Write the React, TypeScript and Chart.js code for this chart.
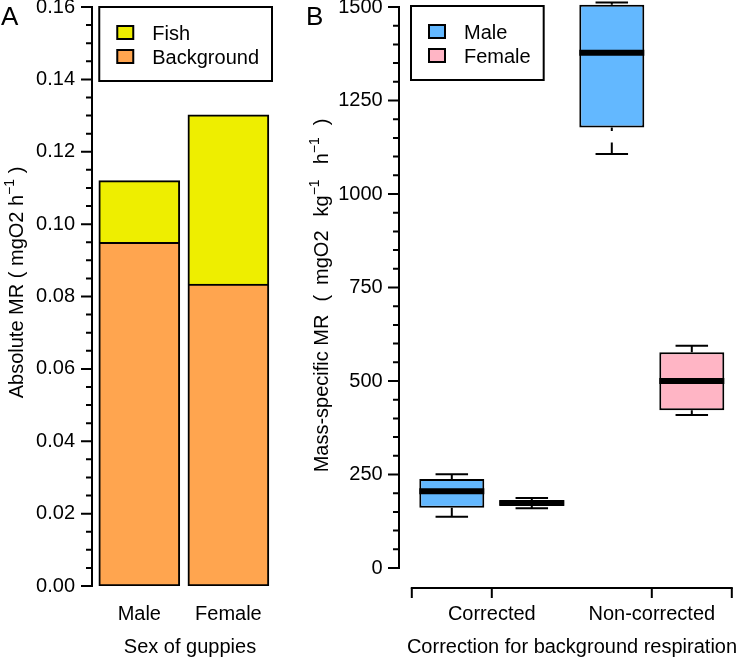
import { useEffect, useRef } from 'react';
import { Chart, registerables } from 'chart.js';

Chart.register(...registerables);

// ---------- Panel A data ----------
const sexCategories = ['Male', 'Female'];
const backgroundMR = [0.095, 0.0834];
const fishMR = [0.017, 0.0468];
const yTicksA = [0, 0.02, 0.04, 0.06, 0.08, 0.1, 0.12, 0.14, 0.16];

// ---------- Panel B data ----------
const correctionGroups = ['Corrected', 'Non-corrected'];
const maleMin = [137, 1107];
const maleQ1 = [161, 1178];
const maleMedian = [205, 1378];
const maleQ3 = [238, 1506];
const maleMax = [251, 1512];
const femaleMin = [160, 409];
const femaleQ1 = [167, 422];
const femaleMedian = [174, 500];
const femaleQ3 = [181, 577];
const femaleMax = [187, 594];
const yTicksB = [0, 250, 500, 750, 1000, 1250, 1500];
const xAxisTicksB = [0.5, 1, 2, 2.5];

const FONT = "'Liberation Sans', Arial, Helvetica, sans-serif";
const FS = 20;
const COLORS = {
  fish: '#EEEE00',
  background: '#FFA54F',
  male: '#63B8FF',
  female: '#FFB5C5',
};

type Part = { text?: string; sup?: boolean; gap?: number };

function drawText(ctx: CanvasRenderingContext2D, parts: Part[], x: number, y: number, rotate: boolean, size = FS, supSize = 14, raise = 9) {
  ctx.save();
  ctx.fillStyle = '#000';
  ctx.textBaseline = 'alphabetic';
  ctx.textAlign = 'left';
  let total = 0;
  const widths = parts.map((p) => {
    if (p.gap !== undefined) {
      total += p.gap;
      return p.gap;
    }
    ctx.font = `${p.sup ? supSize : size}px ${FONT}`;
    const w = ctx.measureText(p.text || '').width;
    total += w;
    return w;
  });
  ctx.translate(x, y);
  if (rotate) ctx.rotate(-Math.PI / 2);
  let cx = -total / 2;
  parts.forEach((p, i) => {
    if (p.text) {
      ctx.font = `${p.sup ? supSize : size}px ${FONT}`;
      ctx.fillText(p.text, cx, p.sup ? -raise : 0);
    }
    cx += widths[i];
  });
  ctx.restore();
}

function minorValues(majors: number[], parts: number) {
  const out: number[] = [];
  for (let i = 0; i < majors.length - 1; i++) {
    const a = majors[i];
    const b = majors[i + 1];
    for (let k = 1; k < parts; k++) out.push(a + ((b - a) * k) / parts);
  }
  return out;
}

function drawYAxis(chart: any, majors: number[], minorParts: number) {
  const ctx: CanvasRenderingContext2D = chart.ctx;
  const y = chart.scales.y;
  const x0 = chart.chartArea.left;
  ctx.save();
  ctx.strokeStyle = '#000';
  ctx.lineWidth = 2;
  ctx.lineCap = 'square';
  ctx.beginPath();
  ctx.moveTo(x0, y.getPixelForValue(majors[0]));
  ctx.lineTo(x0, y.getPixelForValue(majors[majors.length - 1]));
  ctx.stroke();
  ctx.lineCap = 'butt';
  ctx.beginPath();
  majors.forEach((v) => {
    const p = y.getPixelForValue(v);
    ctx.moveTo(x0, p);
    ctx.lineTo(x0 - 11, p);
  });
  minorValues(majors, minorParts).forEach((v) => {
    const p = y.getPixelForValue(v);
    ctx.moveTo(x0, p);
    ctx.lineTo(x0 - 6, p);
  });
  ctx.stroke();
  ctx.restore();
}

function drawLegend(ctx: CanvasRenderingContext2D, items: { label: string; color: string }[], anchorX: number, top: number, alignRight: boolean) {
  ctx.save();
  ctx.font = `${FS}px ${FONT}`;
  const textW = Math.max(...items.map((it) => ctx.measureText(it.label).width));
  const width = 53 + textW + 13;
  const height = 74;
  const left = alignRight ? anchorX - width : anchorX;
  ctx.lineWidth = 2;
  ctx.strokeStyle = '#000';
  ctx.fillStyle = '#fff';
  ctx.fillRect(left, top, width, height);
  ctx.strokeRect(left, top, width, height);
  items.forEach((it, k) => {
    const sy = top + 19 + k * 24;
    ctx.fillStyle = it.color;
    ctx.fillRect(left + 18, sy, 16, 13);
    ctx.lineWidth = 2;
    ctx.strokeRect(left + 18, sy, 16, 13);
    ctx.fillStyle = '#000';
    ctx.textBaseline = 'alphabetic';
    ctx.textAlign = 'left';
    ctx.fillText(it.label, left + 53, sy + 13.5);
  });
  ctx.restore();
}

const zeroPad = (s: any) => {
  s.paddingLeft = 0;
  s.paddingRight = 0;
  s.paddingTop = 0;
  s.paddingBottom = 0;
};

const panelAPlugin = {
  id: 'panelA',
  afterDraw(chart: any) {
    const ctx: CanvasRenderingContext2D = chart.ctx;
    drawYAxis(chart, yTicksA, 4);
    const ds = chart.data.datasets;
    const items = [...ds].reverse().map((d: any) => ({ label: d.label, color: d.backgroundColor }));
    drawLegend(ctx, items, chart.chartArea.right - 3.7, chart.chartArea.top, true);
    drawText(ctx, [{ text: 'Absolute MR ( mgO2 h' }, { text: '\u22121', sup: true }, { text: ' )' }], 23, 282.5, true);
    drawText(ctx, [{ text: 'Sex of guppies' }], 190, 653, false);
    ctx.save();
    ctx.fillStyle = '#000';
    ctx.font = `26px ${FONT}`;
    ctx.textBaseline = 'alphabetic';
    ctx.fillText('A', 1, 25);
    ctx.restore();
  },
};

const boxStats = [
  { min: maleMin, q1: maleQ1, med: maleMedian, q3: maleQ3, max: maleMax },
  { min: femaleMin, q1: femaleQ1, med: femaleMedian, q3: femaleQ3, max: femaleMax },
];

const panelBPlugin = {
  id: 'panelB',
  afterDatasetsDraw(chart: any) {
    const ctx: CanvasRenderingContext2D = chart.ctx;
    const y = chart.scales.y;
    ctx.save();
    ctx.strokeStyle = '#000';
    boxStats.forEach((st, di) => {
      const meta = chart.getDatasetMeta(di);
      meta.data.forEach((el: any, i: number) => {
        const cx = el.x;
        const w = el.width;
        // median
        ctx.setLineDash([]);
        ctx.lineCap = 'butt';
        ctx.lineWidth = 6;
        const pm = y.getPixelForValue(st.med[i]);
        ctx.beginPath();
        ctx.moveTo(cx - w / 2, pm);
        ctx.lineTo(cx + w / 2, pm);
        ctx.stroke();
        // whiskers
        ctx.lineWidth = 2;
        ctx.setLineDash([11.5, 11.5]);
        ctx.beginPath();
        ctx.moveTo(cx, y.getPixelForValue(st.min[i]));
        ctx.lineTo(cx, y.getPixelForValue(st.q1[i]));
        ctx.moveTo(cx, y.getPixelForValue(st.max[i]));
        ctx.lineTo(cx, y.getPixelForValue(st.q3[i]));
        ctx.stroke();
        // staples
        ctx.setLineDash([]);
        ctx.beginPath();
        [st.min[i], st.max[i]].forEach((v) => {
          const p = y.getPixelForValue(v);
          ctx.moveTo(cx - w / 4, p);
          ctx.lineTo(cx + w / 4, p);
        });
        ctx.stroke();
      });
    });
    ctx.restore();
  },
  afterDraw(chart: any) {
    const ctx: CanvasRenderingContext2D = chart.ctx;
    drawYAxis(chart, yTicksB, 5);
    // x axis
    const x = chart.scales.x;
    const yb = chart.chartArea.bottom;
    ctx.save();
    ctx.strokeStyle = '#000';
    ctx.lineWidth = 2;
    ctx.lineCap = 'square';
    ctx.beginPath();
    ctx.moveTo(x.getPixelForValue(xAxisTicksB[0]), yb);
    ctx.lineTo(x.getPixelForValue(xAxisTicksB[xAxisTicksB.length - 1]), yb);
    ctx.stroke();
    ctx.lineCap = 'butt';
    ctx.beginPath();
    xAxisTicksB.forEach((v) => {
      const p = x.getPixelForValue(v);
      ctx.moveTo(p, yb);
      ctx.lineTo(p, yb + 10);
    });
    ctx.stroke();
    ctx.restore();
    const items = chart.data.datasets.map((d: any) => ({ label: d.label, color: d.backgroundColor }));
    drawLegend(ctx, items, chart.chartArea.left + 12, chart.chartArea.top + 6, false);
    drawText(
      ctx,
      [
        { text: 'Mass-specific MR' },
        { gap: 13 },
        { text: '(' },
        { gap: 10 },
        { text: 'mgO2' },
        { gap: 14 },
        { text: 'kg' },
        { text: '\u22121', sup: true },
        { gap: 15 },
        { text: 'h' },
        { text: '\u22121', sup: true },
        { gap: 12 },
        { text: ')' },
      ],
      328,
      295.5,
      true,
    );
    drawText(ctx, [{ text: 'Correction for background respiration' }], 572, 653, false);
    ctx.save();
    ctx.fillStyle = '#000';
    ctx.font = `26px ${FONT}`;
    ctx.textBaseline = 'alphabetic';
    ctx.fillText('B', 306, 25);
    ctx.restore();
  },
};

const tickFont = { family: FONT, size: FS };

function makeConfigA(): any {
  return {
    type: 'bar',
    data: {
      datasets: [
        {
          label: 'Background',
          data: sexCategories.map((_, i) => ({ x: i + 1, y: backgroundMR[i] })),
          backgroundColor: COLORS.background,
          borderColor: '#000',
          borderWidth: 2,
          borderSkipped: false,
          barThickness: 81,
        },
        {
          label: 'Fish',
          data: sexCategories.map((_, i) => ({ x: i + 1, y: fishMR[i] })),
          backgroundColor: COLORS.fish,
          borderColor: '#000',
          borderWidth: 2,
          borderSkipped: 'start',
          barThickness: 81,
        },
      ],
    },
    options: {
      responsive: false,
      animation: false,
      events: [],
      layout: { padding: { left: 0, right: 742 - 275.7, top: 7, bottom: 0 } },
      plugins: { legend: { display: false }, tooltip: { enabled: false } },
      scales: {
        x: {
          type: 'linear',
          offset: false,
          stacked: true,
          min: 0.469,
          max: 2.531,
          grid: { display: false, drawTicks: false, offset: false },
          border: { display: false },
          afterBuildTicks: (s: any) => {
            s.ticks = sexCategories.map((_, i) => ({ value: i + 1 }));
          },
          afterFit: (s: any) => {
            s.height = 72;
            zeroPad(s);
          },
          ticks: {
            callback: (_v: any, i: number) => sexCategories[i],
            font: tickFont,
            color: '#000',
            padding: 16.8,
            maxRotation: 0,
            autoSkip: false,
          },
        },
        y: {
          type: 'linear',
          stacked: true,
          min: 0,
          max: 0.16,
          grid: { display: false, drawTicks: false },
          border: { display: false },
          afterBuildTicks: (s: any) => {
            s.ticks = yTicksA.map((v) => ({ value: v }));
          },
          afterFit: (s: any) => {
            s.width = 92;
            zeroPad(s);
          },
          ticks: {
            callback: (v: any) => Number(v).toFixed(2),
            font: tickFont,
            color: '#000',
            padding: 17,
            autoSkip: false,
          },
        },
      },
    },
    plugins: [panelAPlugin],
  };
}

function makeConfigB(): any {
  return {
    type: 'bar',
    data: {
      datasets: [
        {
          label: 'Male',
          data: correctionGroups.map((_, i) => ({ x: i + 1, y: [maleQ1[i], maleQ3[i]] })),
          backgroundColor: COLORS.male,
          borderColor: '#000',
          borderWidth: 2,
          borderSkipped: false,
          categoryPercentage: 1,
          barPercentage: 0.8125,
        },
        {
          label: 'Female',
          data: correctionGroups.map((_, i) => ({ x: i + 1, y: [femaleQ1[i], femaleQ3[i]] })),
          backgroundColor: COLORS.female,
          borderColor: '#000',
          borderWidth: 2,
          borderSkipped: false,
          categoryPercentage: 1,
          barPercentage: 0.8125,
        },
      ],
    },
    options: {
      responsive: false,
      animation: false,
      events: [],
      layout: { padding: { left: 0, right: 0, top: 0, bottom: 0 } },
      plugins: { legend: { display: false }, tooltip: { enabled: false } },
      scales: {
        x: {
          type: 'linear',
          offset: false,
          min: 0.42,
          max: 0.42 + 343 / 160,
          grid: { display: false, drawTicks: false, offset: false },
          border: { display: false },
          afterBuildTicks: (s: any) => {
            s.ticks = correctionGroups.map((_, i) => ({ value: i + 1 }));
          },
          afterFit: (s: any) => {
            s.height = 70;
            zeroPad(s);
          },
          ticks: {
            callback: (_v: any, i: number) => correctionGroups[i],
            font: tickFont,
            color: '#000',
            padding: 14.8,
            maxRotation: 0,
            autoSkip: false,
          },
        },
        y: {
          type: 'linear',
          min: -(588 - 568) / 0.374,
          max: 1500 + 7 / 0.374,
          grid: { display: false, drawTicks: false },
          border: { display: false },
          afterBuildTicks: (s: any) => {
            s.ticks = yTicksB.map((v) => ({ value: v }));
          },
          afterFit: (s: any) => {
            s.width = 399;
            zeroPad(s);
          },
          ticks: {
            callback: (v: any) => String(v),
            font: tickFont,
            color: '#000',
            padding: 16.3,
            autoSkip: false,
          },
        },
      },
    },
    plugins: [panelBPlugin],
  };
}

export default function App() {
  const refA = useRef<HTMLCanvasElement>(null);
  const refB = useRef<HTMLCanvasElement>(null);
  useEffect(() => {
    const a = new Chart(refA.current as HTMLCanvasElement, makeConfigA());
    const b = new Chart(refB.current as HTMLCanvasElement, makeConfigB());
    return () => {
      a.destroy();
      b.destroy();
    };
  }, []);
  return (
    <div style={{ position: 'absolute', left: 0, top: 0, width: 742, height: 658, background: '#fff', overflow: 'hidden' }}>
      <canvas ref={refA} width={742} height={658} style={{ position: 'absolute', left: 0, top: 0 }} />
      <canvas ref={refB} width={742} height={658} style={{ position: 'absolute', left: 0, top: 0 }} />
    </div>
  );
}
